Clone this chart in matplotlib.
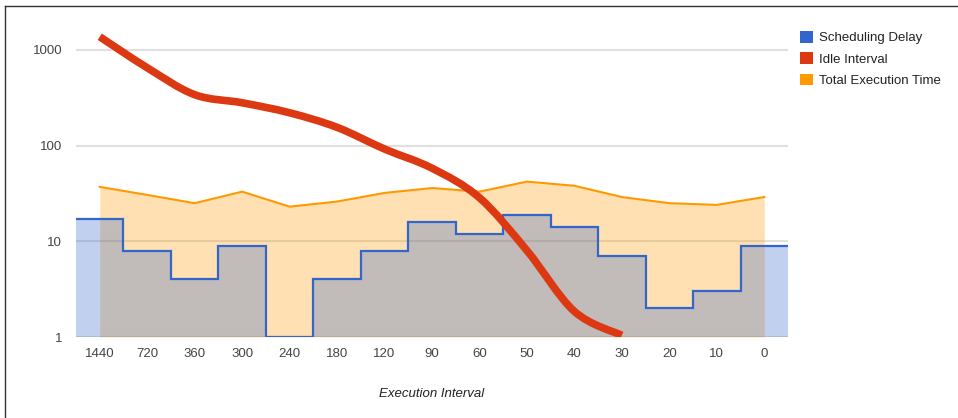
import numpy as np
import matplotlib
matplotlib.use("Agg")
import matplotlib.pyplot as plt
from matplotlib.path import Path
from matplotlib.patches import PathPatch, Patch
from matplotlib.lines import Line2D

plt.rcParams['font.family'] = ['Liberation Sans', 'DejaVu Sans']

categories = ['1440', '720', '360', '300', '240', '180', '120', '90', '60',
              '50', '40', '30', '20', '10', '0']
scheduling_delay = [17, 8, 4, 9, 1, 4, 8, 16, 12, 19, 14, 7, 2, 3, 9]
idle_interval = [1370, 650, 340, 280, 220, 155, 92, 58, 28.5, 8, 1.85, 1.04]
total_exec_time = [37, 30.5, 25, 33, 23, 26, 32, 36, 33, 42, 38, 29, 25, 24, 29]

BLUE = '#3366cc'
RED = '#dc3912'
ORANGE = '#ff9900'


def smooth_path(xs, ys):
    # catmull-rom style bezier in (x, log y) space, like the chart's curved line
    px = np.asarray(xs, float)
    py = np.log10(np.asarray(ys, float))
    n = len(px)
    verts = [(px[0], py[0])]
    codes = [Path.MOVETO]
    for i in range(n - 1):
        p0 = np.array([px[max(i - 1, 0)], py[max(i - 1, 0)]])
        p1 = np.array([px[i], py[i]])
        p2 = np.array([px[i + 1], py[i + 1]])
        p3 = np.array([px[min(i + 2, n - 1)], py[min(i + 2, n - 1)]])
        c1 = p1 + (p2 - p0) / 6
        c2 = p2 - (p3 - p1) / 6
        verts += [tuple(c1), tuple(c2), tuple(p2)]
        codes += [Path.CURVE4] * 3
    verts = [(vx, 10 ** vy) for vx, vy in verts]
    return Path(verts, codes)


x = np.arange(len(categories))

fig = plt.figure(figsize=(9.58, 4.18), dpi=100)
ax = fig.add_axes([76 / 958, 1 - 337 / 418, 712 / 958, 317 / 418])
ax.set_yscale('log')
ax.set_ylim(1, 2050)
ax.set_xlim(-0.5, len(categories) - 0.5)

# total execution time area
ax.fill_between(x, 1, total_exec_time, color=ORANGE, alpha=0.3, lw=0, zorder=2)
ax.plot(x, total_exec_time, color=ORANGE, lw=1.5, zorder=4)

# scheduling delay stepped area
edges = np.arange(len(categories) + 1) - 0.5
ax.stairs(scheduling_delay, edges, baseline=1, fill=True, color=BLUE,
          alpha=0.3, lw=0, zorder=3)
ax.stairs(scheduling_delay, edges, baseline=None, color=BLUE, lw=1.6, zorder=5)

# idle interval smooth line
ax.add_patch(PathPatch(smooth_path(x[:len(idle_interval)], idle_interval),
                       fill=False, edgecolor=RED, lw=5.5, capstyle='butt',
                       zorder=6))

ax.set_yticks([1, 10, 100, 1000])
ax.set_yticklabels(['1', '10', '100', '1000'])
ax.yaxis.set_minor_locator(matplotlib.ticker.NullLocator())
ax.set_xticks(x)
ax.set_xticklabels(categories)
ax.tick_params(length=0, labelsize=9.5, labelcolor='#444444')
ax.tick_params(axis='y', pad=10)
ax.tick_params(axis='x', pad=8)
ax.grid(axis='y', color='#e0e0e0', lw=1.5)
ax.set_axisbelow(True)
for s in ax.spines.values():
    s.set_visible(False)

ax.set_xlabel('Execution Interval', fontsize=9.5, style='italic',
              color='#222222', labelpad=20)

handles = [Patch(facecolor=BLUE, edgecolor='none', label='Scheduling Delay'),
           Patch(facecolor=RED, edgecolor='none', label='Idle Interval'),
           Patch(facecolor=ORANGE, edgecolor='none', label='Total Execution Time')]
leg = fig.legend(handles=handles, loc='upper left',
                 bbox_to_anchor=(800 / 958, 1 - 31 / 418), frameon=False,
                 fontsize=9.5, handlelength=1.0, handleheight=1.0,
                 handletextpad=0.45, labelspacing=0.6, borderaxespad=0,
                 borderpad=0)
for t in leg.get_texts():
    t.set_color('#222222')

# frame lines at the left and top of the image
fig.add_artist(Line2D([4.5 / 958, 4.5 / 958], [0, 1 - 6 / 418],
                      transform=fig.transFigure, color='#333333', lw=1))
fig.add_artist(Line2D([4.5 / 958, 1], [1 - 6 / 418, 1 - 6 / 418],
                      transform=fig.transFigure, color='#333333', lw=1))

fig.savefig('out.png', dpi=100)
